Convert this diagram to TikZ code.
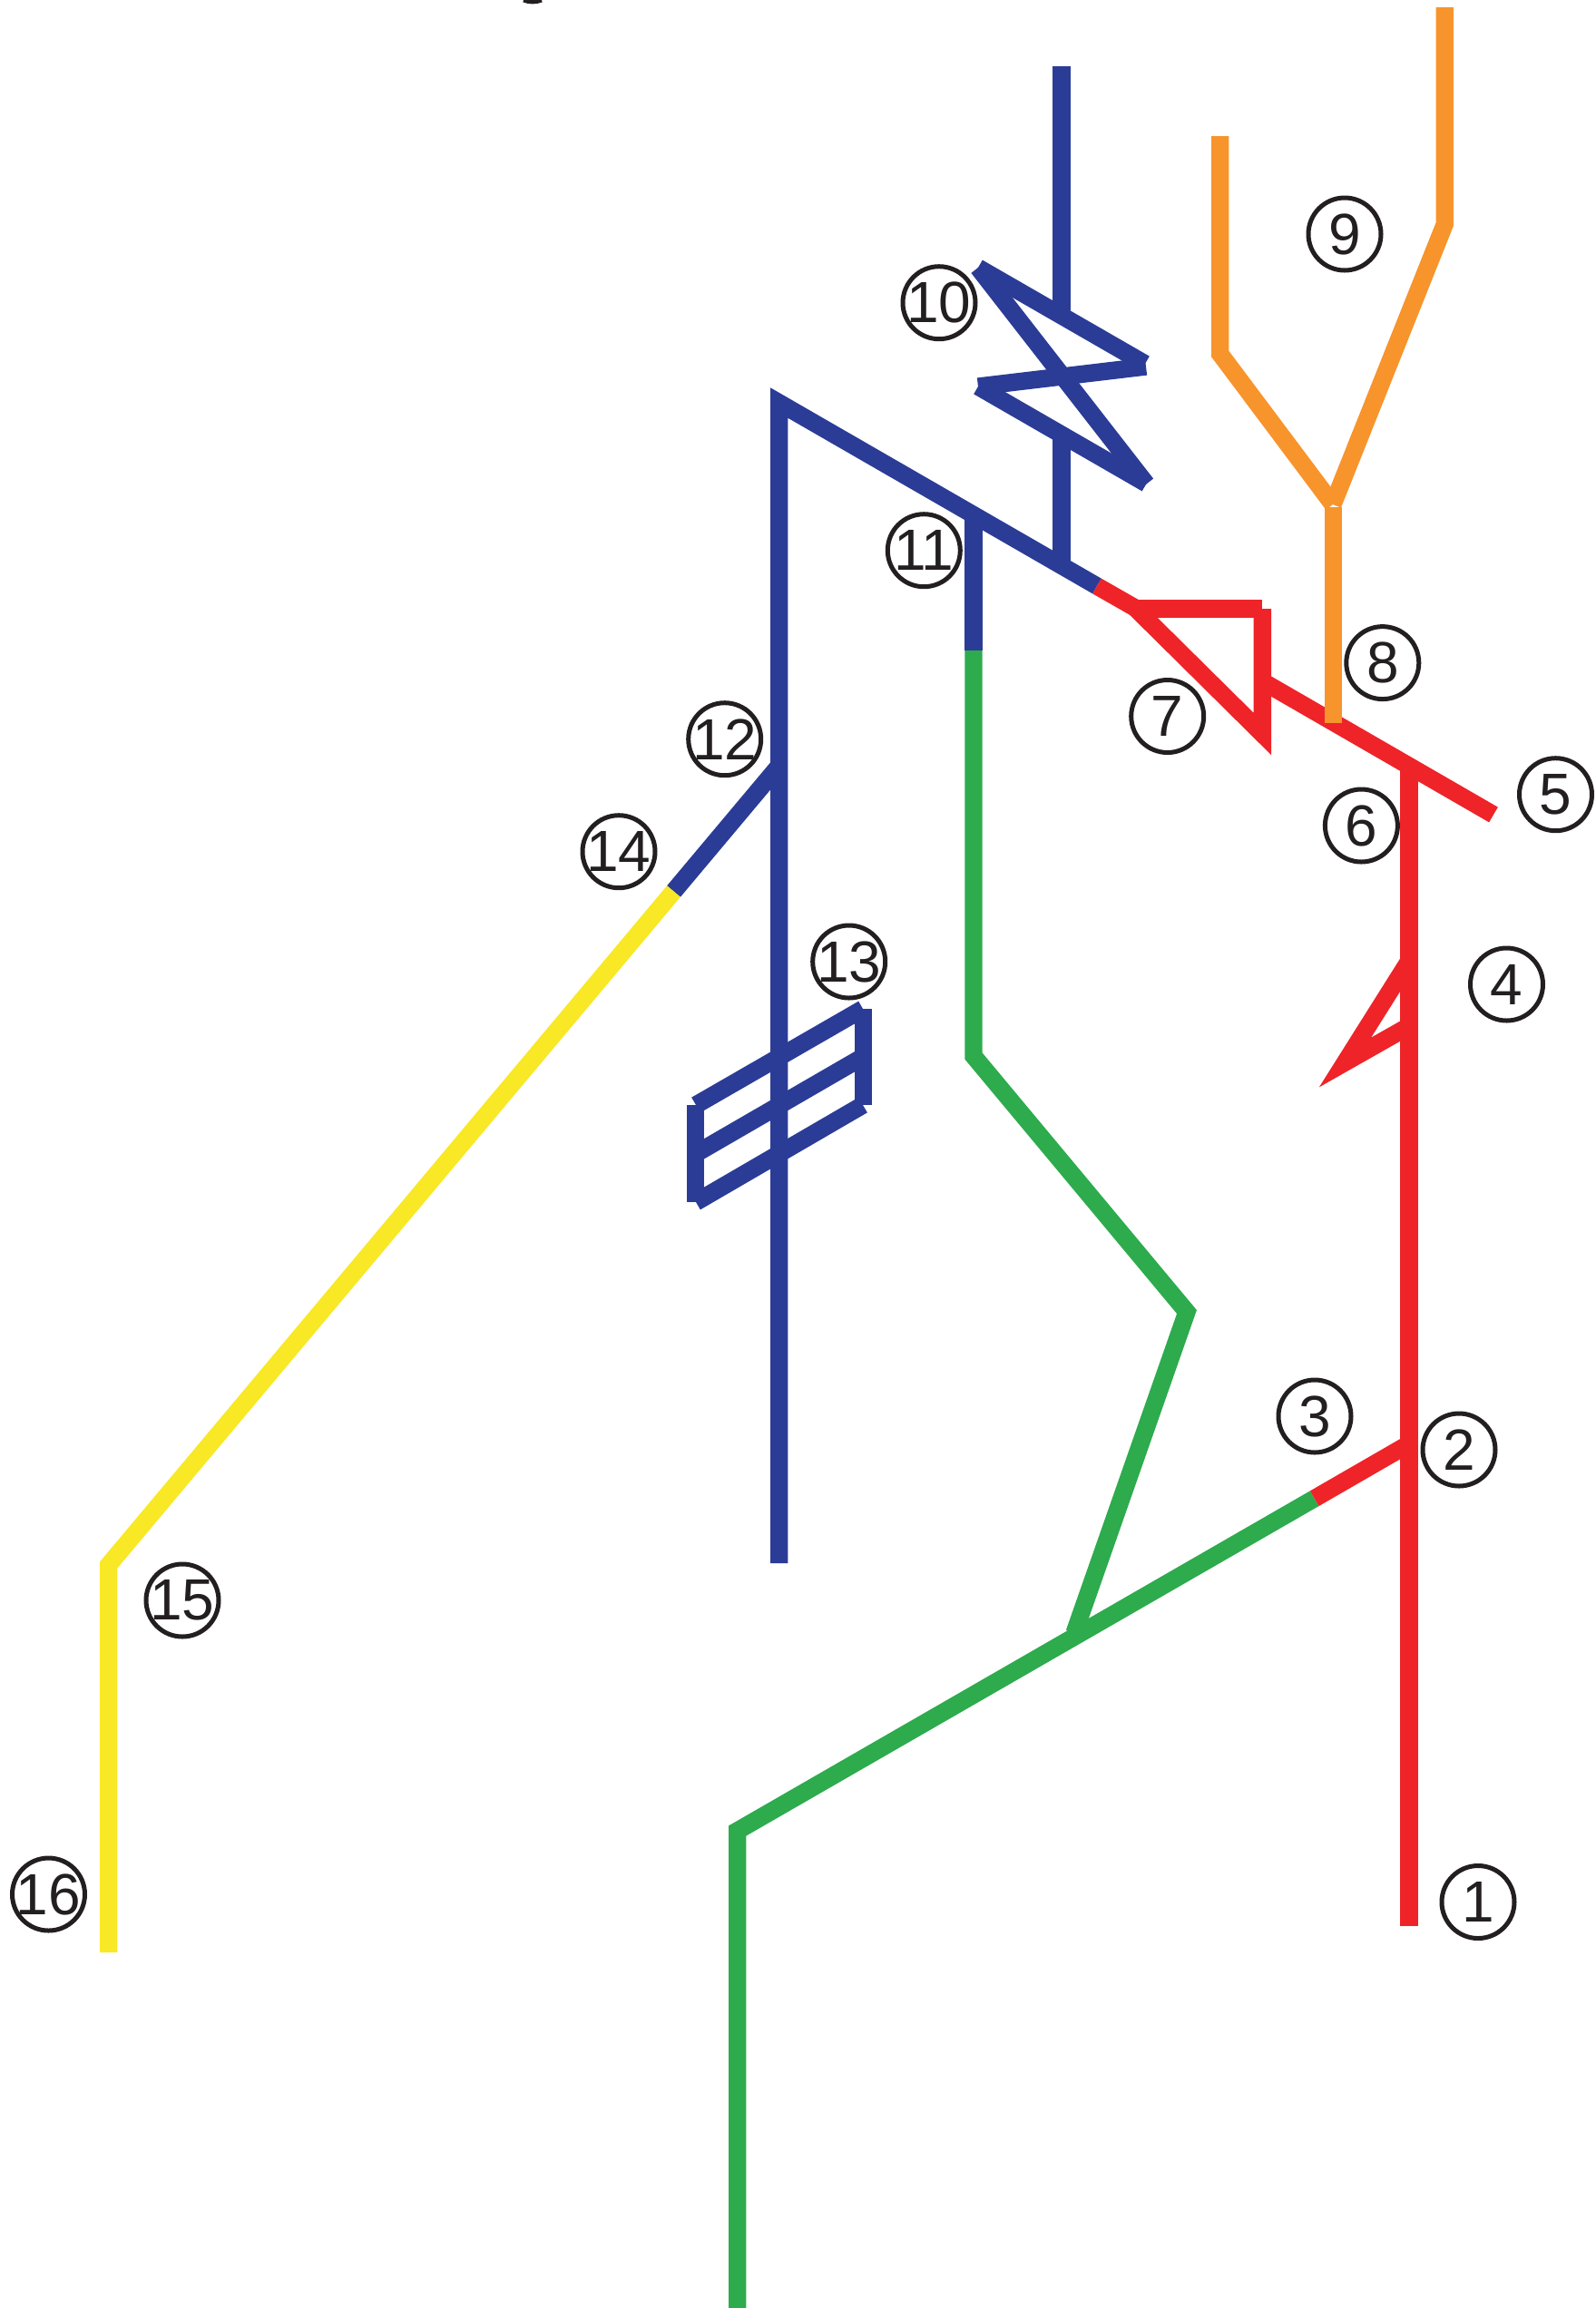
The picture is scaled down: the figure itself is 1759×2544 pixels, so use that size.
\documentclass[tikz,border=0pt]{standalone}
\usepackage{fontspec}
\setmainfont{Liberation Sans}
\definecolor{lineblue}{HTML}{2B3C97}
\definecolor{linered}{HTML}{EE2429}
\definecolor{linegreen}{HTML}{2DAB4D}
\definecolor{lineorange}{HTML}{F7942C}
\definecolor{lineyellow}{HTML}{F8E825}
\definecolor{inkblack}{HTML}{231F20}
\tikzset{
  blueln/.style   = {lineblue, line width=5.8pt},
  redln/.style    = {linered, line width=5.8pt},
  greenln/.style  = {linegreen, line width=5.8pt},
  orangeln/.style = {lineorange, line width=5.8pt},
  yellowln/.style = {lineyellow, line width=5.8pt},
  numnode/.style  = {circle, draw=inkblack, text=inkblack, line width=1.5pt,
                     minimum size=24pt, inner sep=-4pt,
                     font=\fontsize{19.2}{20}\selectfont}
}

\begin{document}
\begin{tikzpicture}[x=0.3pt,y=-0.3pt]
  \useasboundingbox (0,0) rectangle (1759,2544);
  % points on the long slanted line
  \coordinate (apex) at (858.7,444);
  \coordinate (colchg) at (1209,646);
  \coordinate (redknee) at (1251,670);
  \coordinate (redcorner) at (1391.4,671);
  \coordinate (redtip) at (1391.4,809);
  \coordinate (redrejoin) at (1391.4,751);
  \coordinate (redend) at (1646,898);
  \coordinate (redtop) at (1553,844);
  % blue
  \draw[blueln] (858.7,1723) -- (apex) -- (colchg);
  \draw[blueln] (1170,73) -- (1170,348);
  \draw[blueln] (1170,480) -- (1170,623);
  \draw[blueln] (1078,295) -- (1262,401);
  \draw[blueln] (1263,404) -- (1078,426);
  \draw[blueln] (1078,426) -- (1263.5,533);
  \draw[blueln] (1078,295) -- (1263.5,533.5);
  \draw[blueln] (1073,568) -- (1073,717);
  % ladder
  \draw[blueln] (767,1218) -- (951,1112);
  \draw[blueln] (767,1271.5) -- (951,1165);
  \draw[blueln] (767,1325) -- (951,1218);
  \draw[blueln] (766.5,1218) -- (766.5,1325);
  \draw[blueln] (951.5,1112) -- (951.5,1218);
  % branch to yellow
  \coordinate (ybreak) at (742.5,982.5);
  \draw[blueln] (858.7,844) -- (ybreak);
  \draw[yellowln] (ybreak) -- (119.7,1725) -- (119.7,2152);
  % red
  \draw[redln] (colchg) -- (redknee);
  \draw[redln] (redknee) -- (redtip) -- (redcorner);
  \draw[redln] (1249,671) -- (redcorner);
  \draw[redln] (redrejoin) -- (redend);
  \draw[redln] (1553,2123) -- (redtop);
  \draw[redln] (1553,1059) -- (1482.5,1171) -- (1553,1131);
  % green
  \coordinate (gbreak) at (1448.7,1651.7);
  \draw[greenln] (1073,717) -- (1073,1164) -- (1308,1446) -- (1184,1800);
  \draw[greenln] (gbreak) -- (812.7,2018) -- (812.7,2544);
  \draw[redln] (gbreak) -- (1553,1591.5);
  % orange
  \coordinate (ojoin) at (1469,556);
  \draw[orangeln] (1344.7,150) -- (1344.7,390) -- (ojoin);
  \draw[orangeln] (1592.3,8) -- (1592.3,247) -- (ojoin);
  \draw[orangeln] (1469.5,559) -- (1469.5,797);
  % numbers
  \node[numnode] (n1) at (1629,2096.5) {1};
  \node[numnode] (n2) at (1608,1598) {2};
  \node[numnode] (n3) at (1449,1561) {3};
  \node[numnode] (n4) at (1660.5,1085) {4};
  \node[numnode] (n5) at (1714.5,875.7) {5};
  \node[numnode] (n6) at (1500.4,910) {6};
  \node[numnode] (n7) at (1286.7,789.5) {7};
  \node[numnode] (n8) at (1523.8,730.6) {8};
  \node[numnode] (n9) at (1482,258) {9};
  \node[numnode] (n10) at (1035,333.7) {10};
  \node[numnode] (n11) at (1018.3,606.7) {11};
  \node[numnode] (n12) at (798.7,814.7) {12};
  \node[numnode] (n13) at (935.7,1060) {13};
  \node[numnode] (n14) at (682,938.7) {14};
  \node[numnode] (n15) at (201,1764) {15};
  \node[numnode] (n16) at (53.5,2088) {16};
  % bit of a ring cut by the top edge
  \draw[inkblack,line width=1.5pt] (577,0) .. controls (584,2.5) and (590,2.5) .. (597,0);
\end{tikzpicture}
\end{document}
